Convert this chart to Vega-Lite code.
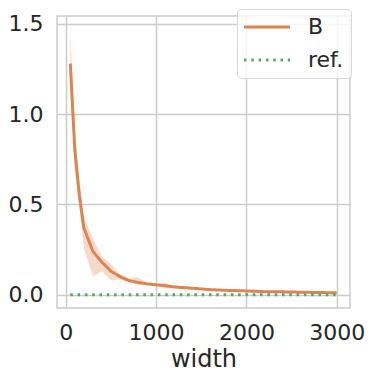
{
  "$schema": "https://vega.github.io/schema/vega-lite/v6.json",
  "width": 293,
  "height": 292,
  "autosize": {"type": "none"},
  "padding": {"left": 57, "top": 16, "right": 24, "bottom": 73},
  "background": "white",
  "config": {
    "font": "DejaVu Sans",
    "view": {"stroke": "#cccccc", "strokeWidth": 1.5},
    "axis": {
      "domain": false,
      "ticks": false,
      "tickSize": 0,
      "gridColor": "#cccccc",
      "gridWidth": 1.5,
      "labelFont": "DejaVu Sans",
      "labelFontSize": 22,
      "labelColor": "#262626",
      "labelPadding": 14,
      "titleFont": "DejaVu Sans",
      "titleFontSize": 24,
      "titleFontWeight": "normal",
      "titleColor": "#262626"
    },
    "legend": {
      "labelFont": "DejaVu Sans",
      "labelFontSize": 22,
      "labelColor": "#262626"
    }
  },
  "data": {
    "values": [
      {"width": 50, "value": 1.28, "lo": 1.12, "hi": 1.47, "series": "B"},
      {"width": 100, "value": 0.80, "lo": 0.70, "hi": 0.90, "series": "B"},
      {"width": 150, "value": 0.55, "lo": 0.50, "hi": 0.64, "series": "B"},
      {"width": 200, "value": 0.37, "lo": 0.26, "hi": 0.43, "series": "B"},
      {"width": 300, "value": 0.24, "lo": 0.10, "hi": 0.31, "series": "B"},
      {"width": 400, "value": 0.18, "lo": 0.13, "hi": 0.21, "series": "B"},
      {"width": 500, "value": 0.13, "lo": 0.08, "hi": 0.17, "series": "B"},
      {"width": 600, "value": 0.10, "lo": 0.085, "hi": 0.11, "series": "B"},
      {"width": 700, "value": 0.078, "lo": 0.07, "hi": 0.09, "series": "B"},
      {"width": 800, "value": 0.068, "lo": 0.055, "hi": 0.095, "series": "B"},
      {"width": 900, "value": 0.06, "lo": 0.055, "hi": 0.066, "series": "B"},
      {"width": 1000, "value": 0.055, "lo": 0.05, "hi": 0.06, "series": "B"},
      {"width": 1100, "value": 0.05, "lo": 0.035, "hi": 0.065, "series": "B"},
      {"width": 1200, "value": 0.043, "lo": 0.04, "hi": 0.047, "series": "B"},
      {"width": 1400, "value": 0.036, "lo": 0.033, "hi": 0.04, "series": "B"},
      {"width": 1600, "value": 0.028, "lo": 0.025, "hi": 0.031, "series": "B"},
      {"width": 1800, "value": 0.024, "lo": 0.021, "hi": 0.027, "series": "B"},
      {"width": 2000, "value": 0.021, "lo": 0.018, "hi": 0.024, "series": "B"},
      {"width": 2200, "value": 0.017, "lo": 0.013, "hi": 0.02, "series": "B"},
      {"width": 2400, "value": 0.016, "lo": 0.012, "hi": 0.02, "series": "B"},
      {"width": 2600, "value": 0.014, "lo": 0.011, "hi": 0.017, "series": "B"},
      {"width": 2800, "value": 0.012, "lo": 0.009, "hi": 0.015, "series": "B"},
      {"width": 3000, "value": 0.011, "lo": 0.008, "hi": 0.014, "series": "B"},
      {"width": 50, "value": 0, "series": "ref."},
      {"width": 3000, "value": 0, "series": "ref."}
    ]
  },
  "encoding": {
    "x": {
      "field": "width",
      "type": "quantitative",
      "scale": {"domain": [-97.5, 3147.5], "nice": false, "zero": false},
      "axis": {"values": [0, 1000, 2000, 3000], "format": "d", "title": "width", "titlePadding": 4, "labelFlush": false}
    }
  },
  "layer": [
    {
      "transform": [{"filter": "datum.series === 'B'"}],
      "mark": {"type": "area", "color": "#dd8452", "opacity": 0.3},
      "encoding": {
        "y": {"field": "lo", "type": "quantitative"},
        "y2": {"field": "hi"}
      }
    },
    {
      "mark": {"type": "line", "strokeWidth": 3},
      "encoding": {
        "y": {
          "field": "value",
          "type": "quantitative",
          "scale": {"domain": [-0.0735, 1.5435], "nice": false, "zero": false},
          "axis": {"values": [0, 0.5, 1, 1.5], "format": ".1f", "title": null, "labelFlush": false}
        },
        "color": {
          "field": "series",
          "type": "nominal",
          "scale": {"domain": ["B", "ref."], "range": ["#dd8452", "#55a868"]},
          "legend": {
            "title": null,
            "orient": "none",
            "legendX": 180,
            "legendY": -7,
            "fillColor": "rgba(255,255,255,0.8)",
            "strokeColor": "#d9d9d9",
            "cornerRadius": 4,
            "padding": 7,
            "symbolType": "M-1.158,0H3.684",
            "symbolSize": 361,
            "symbolStrokeWidth": 3,
            "symbolOffset": 0,
            "labelOffset": 42,
            "rowPadding": 11
          }
        },
        "strokeDash": {
          "field": "series",
          "type": "nominal",
          "scale": {"domain": ["B", "ref."], "range": [[1, 0], [2.5, 4.8]]},
          "legend": null
        }
      }
    }
  ]
}
